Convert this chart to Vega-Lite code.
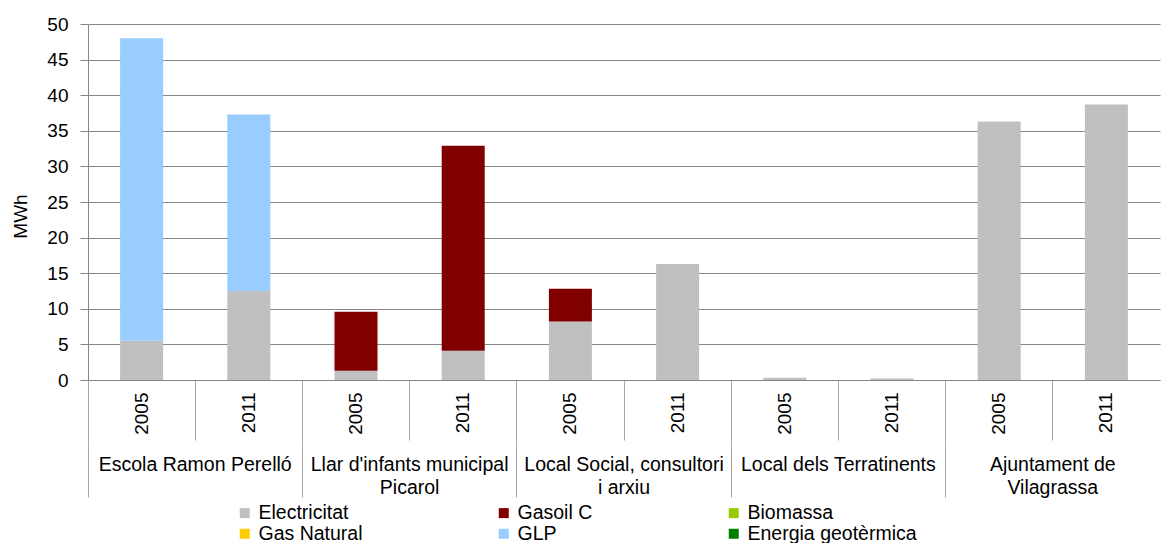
{
  "$schema": "https://vega.github.io/schema/vega-lite/v6.json",
  "width": 1072,
  "height": 356,
  "autosize": {"type": "none"},
  "padding": {"left": 88, "top": 24, "right": 1, "bottom": 163},
  "background": "white",
  "config": {
    "view": {"stroke": null},
    "font": "Liberation Sans"
  },
  "data": {
    "values": [
      {"building": "Escola Ramon Perelló", "column": "Escola Ramon Perelló 2005", "source": "Electricitat", "value": 5.5},
      {"building": "Escola Ramon Perelló", "column": "Escola Ramon Perelló 2005", "source": "GLP", "value": 42.5},
      {"building": "Escola Ramon Perelló", "column": "Escola Ramon Perelló 2011", "source": "Electricitat", "value": 12.5},
      {"building": "Escola Ramon Perelló", "column": "Escola Ramon Perelló 2011", "source": "GLP", "value": 24.8},
      {"building": "Llar d'infants municipal Picarol", "column": "Llar d'infants municipal Picarol 2005", "source": "Electricitat", "value": 1.3},
      {"building": "Llar d'infants municipal Picarol", "column": "Llar d'infants municipal Picarol 2005", "source": "Gasoil C", "value": 8.3},
      {"building": "Llar d'infants municipal Picarol", "column": "Llar d'infants municipal Picarol 2011", "source": "Electricitat", "value": 4.1},
      {"building": "Llar d'infants municipal Picarol", "column": "Llar d'infants municipal Picarol 2011", "source": "Gasoil C", "value": 28.8},
      {"building": "Local Social, consultori i arxiu", "column": "Local Social, consultori i arxiu 2005", "source": "Electricitat", "value": 8.2},
      {"building": "Local Social, consultori i arxiu", "column": "Local Social, consultori i arxiu 2005", "source": "Gasoil C", "value": 4.6},
      {"building": "Local Social, consultori i arxiu", "column": "Local Social, consultori i arxiu 2011", "source": "Electricitat", "value": 16.3},
      {"building": "Local dels Terratinents", "column": "Local dels Terratinents 2005", "source": "Electricitat", "value": 0.3},
      {"building": "Local dels Terratinents", "column": "Local dels Terratinents 2011", "source": "Electricitat", "value": 0.2},
      {"building": "Ajuntament de Vilagrassa", "column": "Ajuntament de Vilagrassa 2005", "source": "Electricitat", "value": 36.3},
      {"building": "Ajuntament de Vilagrassa", "column": "Ajuntament de Vilagrassa 2011", "source": "Electricitat", "value": 38.7}
    ]
  },
  "layer": [
    {
      "mark": {"type": "bar", "width": 43},
      "encoding": {
        "x": {
          "field": "column",
          "type": "nominal",
          "sort": null,
          "scale": {"paddingInner": 0, "paddingOuter": 0},
          "axis": {
            "orient": "bottom",
            "title": null,
            "labelExpr": "slice(datum.value, -4)",
            "labelAngle": 270,
            "labelAlign": "right",
            "labelBaseline": "middle",
            "labelOverlap": false,
            "labelFont": "Liberation Sans",
            "labelFontSize": 19,
            "labelColor": "#000000",
            "bandPosition": 0,
            "tickSize": 60,
            "tickColor": "#a6a6a6",
            "domainColor": "#868686",
            "labelPadding": -48,
            "grid": false
          }
        },
        "y": {
          "field": "value",
          "type": "quantitative",
          "stack": "zero",
          "scale": {"domain": [0, 50], "nice": false},
          "axis": {
            "title": "MWh",
            "values": [0, 5, 10, 15, 20, 25, 30, 35, 40, 45, 50],
            "labelOverlap": false,
            "grid": true,
            "gridColor": "#868686",
            "domainColor": "#868686",
            "tickColor": "#868686",
            "tickSize": 8,
            "labelPadding": 12,
            "labelFont": "Liberation Sans",
            "labelFontSize": 19,
            "labelColor": "#000000",
            "titleFont": "Liberation Sans",
            "titleFontSize": 19,
            "titleColor": "#000000",
            "titleFontWeight": "normal",
            "titleX": -58,
            "titleY": 192
          }
        },
        "order": {"field": "source", "sort": "ascending"},
        "color": {
          "field": "source",
          "type": "nominal",
          "scale": {
            "domain": ["Electricitat", "Gasoil C", "Biomassa", "Gas Natural", "GLP", "Energia geotèrmica"],
            "range": ["#c0c0c0", "#800000", "#99cc00", "#ffcc00", "#99ccff", "#008000"]
          },
          "legend": {
            "orient": "none",
            "legendX": 147,
            "legendY": 479,
            "direction": "horizontal",
            "columns": 3,
            "title": null,
            "symbolType": "square",
            "symbolSize": 100,
            "labelFont": "Liberation Sans",
            "labelFontSize": 19.5,
            "labelColor": "#000000",
            "columnPadding": 131,
            "rowPadding": 0,
            "labelOffset": 4,
            "labelLimit": 300
          }
        }
      }
    },
    {
      "mark": {"type": "bar", "opacity": 0},
      "encoding": {
        "x": {
          "field": "building",
          "type": "nominal",
          "sort": null,
          "scale": {"paddingInner": 0, "paddingOuter": 0},
          "axis": {
            "orient": "bottom",
            "offset": 60,
            "title": null,
            "domain": false,
            "bandPosition": 0,
            "tickSize": 57,
            "tickColor": "#a6a6a6",
            "labelPadding": -42,
            "labelAngle": 0,
            "labelAlign": "center",
            "labelBaseline": "top",
            "labelLineHeight": 23,
            "labelOverlap": false,
            "labelLimit": 400,
            "labelFont": "Liberation Sans",
            "labelFontSize": 19.5,
            "labelColor": "#000000",
            "labelExpr": "split(replace(replace(replace(datum.value, ' Picarol', '|Picarol'), ' i arxiu', '|i arxiu'), ' Vilagrassa', '|Vilagrassa'), '|')"
          }
        },
        "y": {
          "datum": 0,
          "type": "quantitative",
          "scale": {"domain": [0, 50], "nice": false},
          "axis": {
            "title": "MWh",
            "values": [0, 5, 10, 15, 20, 25, 30, 35, 40, 45, 50],
            "labelOverlap": false,
            "grid": true,
            "gridColor": "#868686",
            "domainColor": "#868686",
            "tickColor": "#868686",
            "tickSize": 8,
            "labelPadding": 12,
            "labelFont": "Liberation Sans",
            "labelFontSize": 19,
            "labelColor": "#000000",
            "titleFont": "Liberation Sans",
            "titleFontSize": 19,
            "titleColor": "#000000",
            "titleFontWeight": "normal",
            "titleX": -58,
            "titleY": 192
          }
        }
      }
    }
  ],
  "resolve": {"scale": {"x": "independent"}, "axis": {"x": "independent"}}
}
